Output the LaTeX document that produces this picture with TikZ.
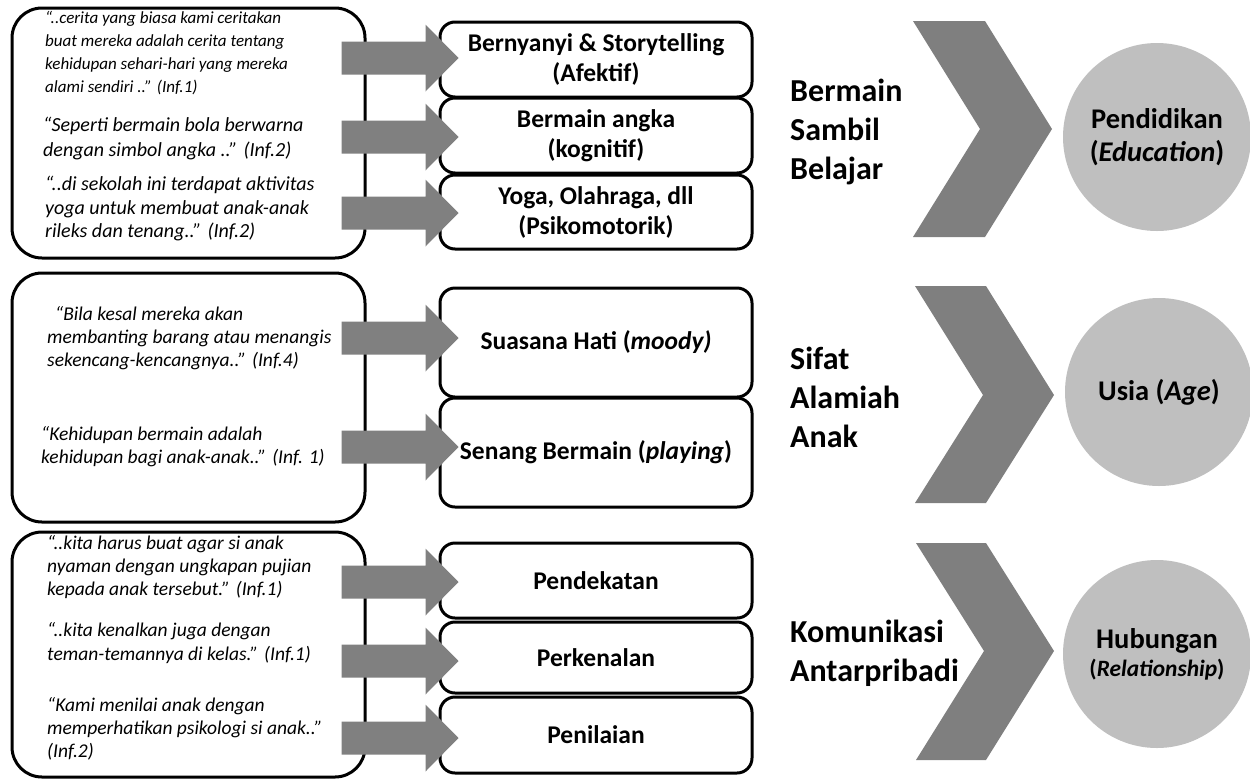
\documentclass[tikz,border=0pt]{standalone}
\usepackage{fontspec}
\setmainfont{Carlito}
\usetikzlibrary{calc}
\definecolor{arrgray}{HTML}{808080}
\definecolor{chevgray}{HTML}{7F7F7F}
\definecolor{circgray}{HTML}{BFBFBF}
\tikzset{
  qbox/.style={draw, line width=3pt, rounded corners=30pt, inner sep=0pt},
  mbox/.style={draw, line width=3pt, rounded corners=15pt, minimum width=312pt, align=center, inner sep=0pt, font=\bfseries\fontsize{25.5}{30}\selectfont},
  qtext/.style={anchor=west, align=left, inner sep=0pt, font=\itshape\fontsize{19.5}{23.3}\selectfont},
  lbl/.style={anchor=west, align=left, inner sep=0pt, font=\bfseries\fontsize{32}{39}\selectfont},
  circ/.style={circle, fill=circgray, minimum size=188pt, inner sep=0pt, align=center, font=\bfseries\fontsize{28.5}{33}\selectfont},
  chev/.style={fill=chevgray},
  barrow/.pic={\fill[arrgray] (-117,-16.5) -- (-33,-16.5) -- (-33,-33.5) -- (0,0) -- (-33,33.5) -- (-33,16.5) -- (-117,16.5) -- cycle;}
}
\begin{document}
\begin{tikzpicture}[x=1pt,y=-1pt]
\useasboundingbox (0,0) rectangle (1250,780);
% quote boxes
\node[qbox, minimum width=353pt, minimum height=250pt] (q1) at (188.5,133) {};
\node[qbox, minimum width=353pt, minimum height=249pt] (q2) at (188.5,397.5) {};
\node[qbox, minimum width=353pt, minimum height=245pt] (q3) at (188.5,654.5) {};
% quotes
\node[qtext, font=\itshape\fontsize{17}{22.8}\selectfont] (t11) at (45,53) {“..cerita yang biasa kami ceritakan\\buat mereka adalah cerita tentang\\kehidupan sehari-hari yang mereka\\alami sendiri ..” (Inf.1)};
\node[qtext, font=\itshape\fontsize{20}{25}\selectfont] (t12) at (43,138.5) {“Seperti bermain bola berwarna\\dengan simbol angka ..” (Inf.2)};
\node[qtext, font=\itshape\fontsize{20}{23.5}\selectfont] (t13) at (45,209) {“..di sekolah ini terdapat aktivitas\\yoga untuk membuat anak-anak\\rileks dan tenang..” (Inf.2)};
\node[qtext] (t21) at (47,338) {\hspace*{8pt}“Bila kesal mereka akan\\membanting barang atau menangis\\sekencang-kencangnya..” (Inf.4)};
\node[qtext] (t22) at (41,446.5) {“Kehidupan bermain adalah\\kehidupan bagi anak-anak..” (Inf. 1)};
\node[qtext] (t31) at (47,567) {“..kita harus buat agar si anak\\nyaman dengan ungkapan pujian\\kepada anak tersebut.” (Inf.1)};
\node[qtext] (t32) at (47,643) {“..kita kenalkan juga dengan\\teman-temannya di kelas.” (Inf.1)};
\node[qtext] (t33) at (47,729) {“Kami menilai anak dengan\\memperhatikan psikologi si anak..”\\(Inf.2)};
% middle boxes
\node[mbox, minimum height=75pt] (m1a) at (596,59.5) {Bernyanyi \& Storytelling\\(Afektif)};
\node[mbox, minimum height=75pt] (m1b) at (596,135.5) {Bermain angka\\(kognitif)};
\node[mbox, minimum height=74pt] (m1c) at (596,212) {Yoga, Olahraga, dll\\(Psikomotorik)};
\node[mbox, minimum height=109pt] (m2a) at (596,342.5) {Suasana Hati (\textit{moody)}};
\node[mbox, minimum height=109pt] (m2b) at (596,452.5) {Senang Bermain (\textit{playing})};
\node[mbox, minimum height=75pt] (m3a) at (596,580.5) {Pendekatan};
\node[mbox, minimum height=71pt] (m3b) at (596,657.5) {Perkenalan};
\node[mbox, minimum height=76pt] (m3c) at (596,735) {Penilaian};
% block arrows from quote boxes to items
\pic at ($(m1a.west)+(20,-1.5)$) {barrow};
\pic at ($(m1b.west)+(20,1.5)$) {barrow};
\pic at ($(m1c.west)+(20,1)$) {barrow};
\pic at ($(m2a.west)+(20,-4.5)$) {barrow};
\pic at ($(m2b.west)+(20,-5.5)$) {barrow};
\pic at ($(m3a.west)+(20,1.5)$) {barrow};
\pic at ($(m3b.west)+(20,3.5)$) {barrow};
\pic at ($(m3c.west)+(20,3)$) {barrow};
% labels
\node[lbl] (l1) at (790,132) {Bermain\\Sambil\\Belajar};
\node[lbl] (l2) at (790,397) {Sifat\\Alamiah\\Anak};
\node[lbl] (l3) at (790,653) {Komunikasi\\Antarpribadi};
% chevrons
\fill[chev] (913,21) -- (985,21) -- (1052,129) -- (985,237) -- (913,237) -- (980,129) -- cycle;
\fill[chev] (915,286) -- (986,286) -- (1054,395) -- (986,503) -- (915,503) -- (983,395) -- cycle;
\fill[chev] (916,543) -- (986,543) -- (1054,651) -- (986,760) -- (916,760) -- (984,651) -- cycle;
% circles
\node[circ] (c1) at (1157,137) {Pendidikan\\(\textit{Education})};
\node[circ] (c2) at (1159,392) {Usia (\textit{Age})};
\node[circ] (c3) at (1157,654) {Hubungan\\[-5pt]{\fontsize{23.4}{26}\selectfont(\textit{Relationship})}};
\end{tikzpicture}
\end{document}
